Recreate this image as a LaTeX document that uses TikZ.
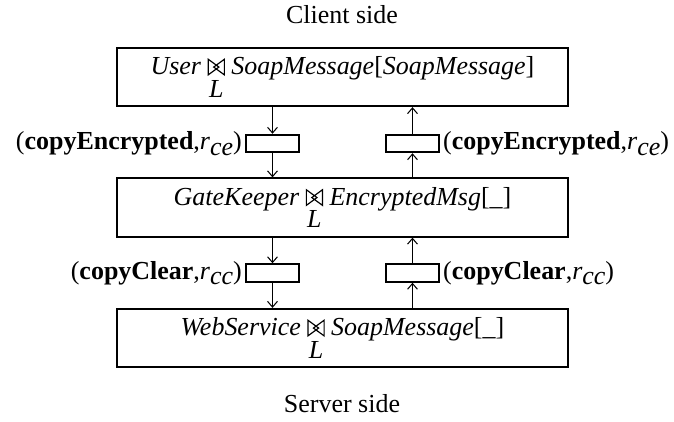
\documentclass[tikz,border=0pt]{standalone}
\usepackage{fontspec}
\setmainfont{Liberation Serif}
\usetikzlibrary{positioning,arrows.meta}

% join symbol with its label L underneath
\newcommand{\bowsym}{\tikz[x=1pt,y=1pt,baseline=0pt,line width=0.45pt]{\draw (0,0) -- (0,6) -- (4.1,3) -- cycle (6.2,0) -- (6.2,6) -- (2.1,3) -- cycle;}}
\newcommand{\lj}{\mbox{\ooalign{\hfil\bowsym\hfil\cr\hfil\raisebox{-8.6pt}{\textit{L}}\hfil\cr}}}
\newcommand{\rsub}[1]{\textit{r}\raisebox{-0.45ex}{\textit{#1}}}

\tikzset{
  layer/.style={draw, line width=0.8pt, minimum width=173.6pt, minimum height=22.4pt, inner sep=0},
  chan/.style={draw, line width=0.8pt, minimum width=20.4pt, minimum height=6.7pt, inner sep=0},
  chanlbl/.style={inner sep=1pt},
  >={Straight Barb[length=2.2pt,width=3.8pt]}
}

\begin{document}
\begin{tikzpicture}[x=0.385pt,y=-0.385pt]
\useasboundingbox (0,0) rectangle (674,421);

\node (client) at (342,15) {Client side};
\node (server) at (342,404) {Server side};

% the three layers
\node [layer] (user) at (342.5,77) {\textit{User} \lj{} \textit{SoapMessage}[\textit{SoapMessage}]};
\node [layer] (gate) at (342.5,207.5) {\textit{GateKeeper} \lj{} \textit{EncryptedMsg}[\_]};
\node [layer] (web) at (342.5,338) {\textit{WebService} \lj{} \textit{SoapMessage}[\_]};

% channels
\node [chan] (ceDown) at (272.5,143.5) {};
\node [chan] (ceUp) at (412.5,143.5) {};
\node [chan] (ccDown) at (272.5,273) {};
\node [chan] (ccUp) at (412.5,273) {};

\node [chanlbl, left=0pt of ceDown] (ceDownLbl) {(\textbf{copyEncrypted},\rsub{ce})};
\node [chanlbl, right=0pt of ceUp] (ceUpLbl) {(\textbf{copyEncrypted},\rsub{ce})};
\node [chanlbl, left=0pt of ccDown] (ccDownLbl) {(\textbf{copyClear},\rsub{cc})};
\node [chanlbl, right=0pt of ccUp] (ccUpLbl) {(\textbf{copyClear},\rsub{cc})};

\draw [->] (user.south -| ceDown) -- (ceDown.north);
\draw [->] (ceDown.south) -- (gate.north -| ceDown);
\draw [->] (gate.north -| ceUp) -- (ceUp.south);
\draw [->] (ceUp.north) -- (user.south -| ceUp);
\draw [->] (gate.south -| ccDown) -- (ccDown.north);
\draw [->] (ccDown.south) -- (web.north -| ccDown);
\draw [->] (web.north -| ccUp) -- (ccUp.south);
\draw [->] (ccUp.north) -- (gate.south -| ccUp);
\end{tikzpicture}
\end{document}
